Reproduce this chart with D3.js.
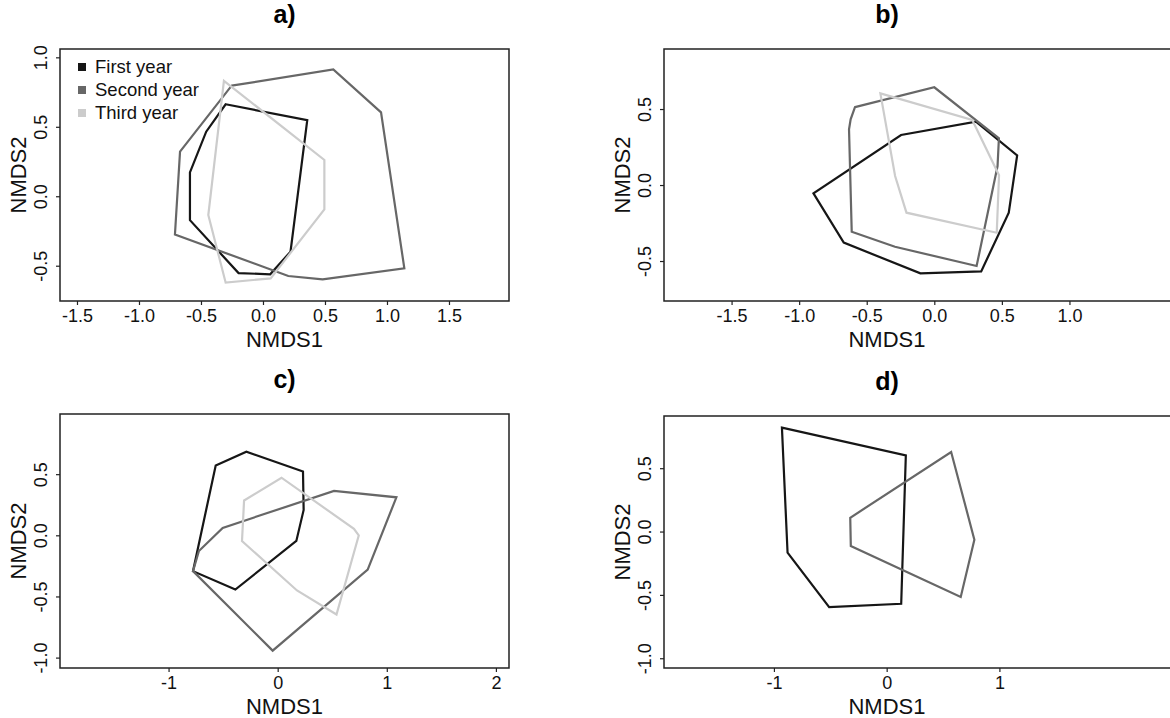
<!DOCTYPE html>
<html>
<head>
<meta charset="utf-8">
<script src="https://cdn.jsdelivr.net/npm/d3@7"></script>
<style>
  html, body { margin: 0; padding: 0; background: #ffffff; }
  svg { display: block; font-family: "Liberation Sans", Arial, Helvetica, sans-serif; }
</style>
</head>
<body>
<svg id="chart" width="1170" height="718"></svg>
<script>
// Community composition across three survey years: convex hulls of NMDS scores.
const seriesNames = ["First year", "Second year", "Third year"];
const seriesColors = ["#161616", "#676767", "#cccccc"];

// Panel a) hull vertices [NMDS1, NMDS2]
const aFirstYear = [[-0.301, 0.662], [0.357, 0.548], [0.222, -0.399], [0.058, -0.562], [-0.197, -0.553],
  [-0.589, -0.172], [-0.589, 0.172], [-0.458, 0.465]];
const aSecondYear = [[-0.253, 0.796], [0.567, 0.913], [0.952, 0.604], [1.140, -0.519], [0.481, -0.598],
  [0.204, -0.574], [-0.710, -0.275], [-0.669, 0.321]];
const aThirdYear = [[-0.315, 0.831], [0.495, 0.261], [0.495, -0.094], [0.062, -0.591], [-0.301, -0.622],
  [-0.441, -0.135]];

// Panel b)
const bFirstYear = [[-0.894, -0.055], [-0.670, -0.379], [-0.103, -0.581], [0.347, -0.568], [0.551, -0.182],
  [0.613, 0.195], [0.308, 0.417], [-0.246, 0.329]];
const bSecondYear = [[-0.587, 0.513], [0.0, 0.643], [0.478, 0.307], [0.468, 0.125], [0.313, -0.533],
  [-0.291, -0.406], [-0.611, -0.307], [-0.631, 0.366], [-0.619, 0.432]];
const bThirdYear = [[-0.399, 0.603], [0.281, 0.428], [0.479, 0.064], [0.462, -0.314], [-0.206, -0.182],
  [-0.290, 0.059]];

// Panel c)
const cFirstYear = [[-0.568, 0.571], [-0.287, 0.683], [0.232, 0.522], [0.238, 0.208], [0.171, -0.046],
  [-0.388, -0.443], [-0.776, -0.293]];
const cSecondYear = [[-0.776, -0.293], [-0.722, -0.128], [-0.504, 0.061], [0.516, 0.363], [1.088, 0.311],
  [0.825, -0.281], [-0.046, -0.943]];
const cThirdYear = [[-0.308, 0.285], [0.035, 0.471], [0.699, 0.053], [0.743, -0.001], [0.539, -0.648],
  [0.177, -0.451], [-0.327, -0.047]];

// Panel d) (no third-year hull)
const dFirstYear = [[-0.929, 0.820], [0.170, 0.601], [0.129, -0.570], [-0.510, -0.596], [-0.879, -0.167]];
const dSecondYear = [[0.572, 0.628], [0.778, -0.064], [0.657, -0.517], [-0.318, -0.114], [-0.323, 0.109]];

// Axis ticks
const aXTicks = [-1.5, -1.0, -0.5, 0.0, 0.5, 1.0, 1.5];
const aYTicks = [-0.5, 0.0, 0.5, 1.0];
const bXTicks = [-1.5, -1.0, -0.5, 0.0, 0.5, 1.0];
const bYTicks = [-0.5, 0.0, 0.5];
const cXTicks = [-1, 0, 1, 2];
const cYTicks = [-1.0, -0.5, 0.0, 0.5];
const dXTicks = [-1, 0, 1];
const dYTicks = [-1.0, -0.5, 0.0, 0.5];

const fmt1 = v => v.toFixed(1);
const fmt0 = v => v.toFixed(0);

const panels = [
  { title: "a)", hulls: [aFirstYear, aSecondYear, aThirdYear], xTicks: aXTicks, yTicks: aYTicks,
    xFmt: fmt1, yFmt: fmt1, xDomain: [-1.637, 1.984], yDomain: [-0.754, 1.060],
    left: 60, plotRight: 509, boxRight: 509, top: 49, bottom: 301, legend: true },
  { title: "b)", hulls: [bFirstYear, bSecondYear, bThirdYear], xTicks: bXTicks, yTicks: bYTicks,
    xFmt: fmt1, yFmt: fmt1, xDomain: [-2.0, 1.30], yDomain: [-0.763, 0.895],
    left: 664, plotRight: 1110, boxRight: 1180, top: 49, bottom: 301, legend: false },
  { title: "c)", hulls: [cFirstYear, cSecondYear, cThirdYear], xTicks: cXTicks, yTicks: cYTicks,
    xFmt: fmt0, yFmt: fmt1, xDomain: [-1.995, 2.120], yDomain: [-1.085, 0.992],
    left: 60, plotRight: 509, boxRight: 509, top: 414, bottom: 668, legend: false },
  { title: "d)", hulls: [dFirstYear, dSecondYear], xTicks: dXTicks, yTicks: dYTicks,
    xFmt: fmt0, yFmt: fmt1, xDomain: [-1.975, 1.981], yDomain: [-1.077, 0.912],
    left: 664, plotRight: 1110, boxRight: 1180, top: 416, bottom: 668, legend: false }
];

const svg = d3.select("#chart");
svg.append("rect").attr("width", 1170).attr("height", 718).attr("fill", "#ffffff");

const line = d3.line().curve(d3.curveLinearClosed);

panels.forEach(p => {
  const g = svg.append("g");
  const x = d3.scaleLinear().domain(p.xDomain).range([p.left, p.plotRight]);
  const y = d3.scaleLinear().domain(p.yDomain).range([p.bottom, p.top]);
  const cx = (p.left + p.plotRight) / 2;
  const cy = (p.top + p.bottom) / 2;

  // panel title
  g.append("text").attr("x", cx).attr("y", p.top - 26)
    .attr("text-anchor", "middle").attr("font-size", 25).attr("font-weight", "bold")
    .attr("fill", "#000").text(p.title);

  // hulls
  p.hulls.forEach((pts, i) => {
    g.append("path")
      .attr("d", line(pts.map(d => [x(d[0]), y(d[1])])))
      .attr("fill", "none").attr("stroke", seriesColors[i])
      .attr("stroke-width", 2.2).attr("stroke-linejoin", "miter");
  });

  // x axis
  const xAxis = d3.axisBottom(x).tickValues(p.xTicks).tickFormat(p.xFmt).tickSize(4).tickPadding(4);
  const xa = g.append("g").attr("transform", `translate(0,${p.bottom})`).call(xAxis);
  xa.select(".domain").remove();
  xa.selectAll("line").attr("stroke", "#222").attr("stroke-width", 1.2);
  xa.selectAll("text").attr("font-size", 18).attr("fill", "#111")
    .attr("font-family", "Liberation Sans, Arial, sans-serif");

  // y axis with labels parallel to the axis
  const yAxis = d3.axisLeft(y).tickValues(p.yTicks).tickFormat(p.yFmt).tickSize(4).tickPadding(4);
  const ya = g.append("g").attr("transform", `translate(${p.left},0)`).call(yAxis);
  ya.select(".domain").remove();
  ya.selectAll("line").attr("stroke", "#222").attr("stroke-width", 1.2);
  ya.selectAll("text").remove();
  ya.selectAll(".tick").append("text")
    .attr("transform", "translate(-13,0) rotate(-90)")
    .attr("text-anchor", "middle").attr("dy", 0)
    .attr("font-size", 18).attr("fill", "#111")
    .attr("font-family", "Liberation Sans, Arial, sans-serif")
    .text(d => p.yFmt(d));

  // box
  g.append("path")
    .attr("d", `M${p.boxRight},${p.top}H${p.left}V${p.bottom}H${p.boxRight}` +
      (p.boxRight === p.plotRight ? "Z" : ""))
    .attr("fill", "none").attr("stroke", "#222").attr("stroke-width", 1.5);

  // axis titles
  g.append("text").attr("x", cx).attr("y", p.bottom + 46)
    .attr("text-anchor", "middle").attr("font-size", 22).attr("fill", "#111").text("NMDS1");
  g.append("text").attr("transform", `translate(${p.left - 34},${cy}) rotate(-90)`)
    .attr("text-anchor", "middle").attr("font-size", 22).attr("fill", "#111").text("NMDS2");

  // legend
  if (p.legend) {
    const lg = g.append("g").attr("transform", `translate(${p.left + 18},${p.top + 18})`);
    seriesNames.forEach((name, i) => {
      lg.append("rect").attr("x", 0).attr("y", i * 23 - 4).attr("width", 8).attr("height", 8)
        .attr("fill", seriesColors[i]);
      lg.append("text").attr("x", 17).attr("y", i * 23 + 6)
        .attr("font-size", 18.5).attr("fill", "#111").text(name);
    });
  }
});
</script>
</body>
</html>
